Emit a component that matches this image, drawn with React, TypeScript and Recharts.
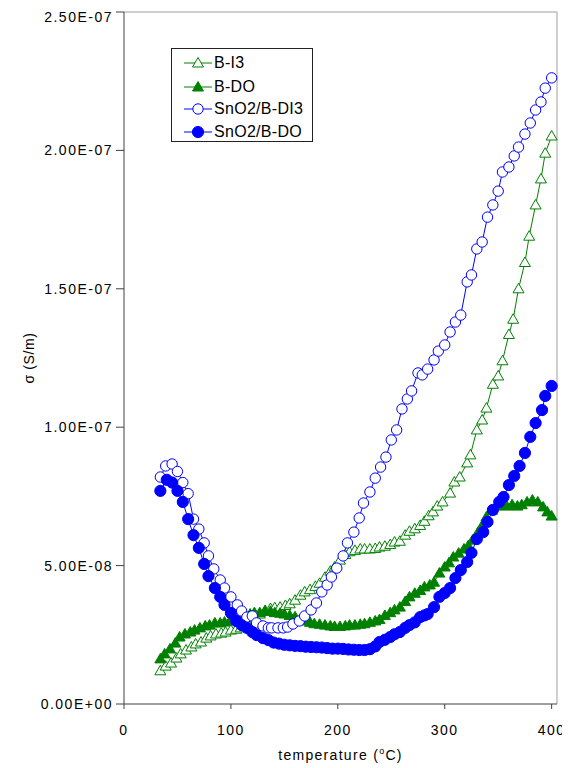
import React from 'react';
import { LineChart, Line, XAxis, YAxis, ReferenceLine } from 'recharts';

// conductivity values are in units of 1e-8 S/m
const bi3Temp = [34, 39, 44, 49, 53, 58, 63, 67, 72, 77, 81, 86, 91, 95, 100, 105, 109, 114, 118, 123, 127, 132, 137, 141, 146, 151, 155, 160, 165, 169, 174, 179, 183, 188, 193, 197, 202, 207, 211, 216, 221, 225, 230, 235, 239, 244, 249, 253, 258, 263, 267, 272, 277, 281, 285, 289, 293, 298, 305, 309, 314, 321, 324, 330, 335, 339, 345, 350, 354, 360, 364, 369, 375, 379, 385, 390, 394, 400];
const bi3Sigma = [1.2, 1.37, 1.48, 1.66, 1.81, 1.95, 2.06, 2.17, 2.24, 2.38, 2.46, 2.53, 2.56, 2.6, 2.67, 2.7, 2.75, 2.85, 2.95, 3.1, 3.25, 3.38, 3.45, 3.48, 3.5, 3.56, 3.62, 3.75, 3.93, 4.05, 4.13, 4.25, 4.36, 4.58, 4.8, 4.95, 5.2, 5.4, 5.5, 5.55, 5.6, 5.6, 5.6, 5.62, 5.67, 5.7, 5.76, 5.85, 5.88, 6.1, 6.24, 6.33, 6.45, 6.6, 6.8, 6.94, 7.15, 7.3, 7.62, 8.02, 8.2, 8.71, 9.0, 9.9, 10.26, 10.69, 11.55, 11.85, 12.4, 13.35, 13.9, 15.0, 15.95, 16.9, 18.03, 18.97, 19.9, 20.52];

const bdoTemp = [34, 38, 43, 48, 52, 57, 62, 66, 71, 76, 80, 85, 90, 94, 99, 104, 108, 113, 118, 122, 127, 132, 137, 141, 146, 150, 155, 160, 165, 169, 174, 178, 183, 188, 193, 197, 202, 207, 211, 216, 221, 225, 230, 235, 239, 244, 249, 253, 258, 263, 267, 272, 277, 281, 286, 290, 295, 300, 304, 308, 313, 318, 322, 326, 331, 335, 339, 344, 348, 353, 358, 363, 368, 372, 377, 382, 387, 392, 396, 400];
const bdoSigma = [1.63, 1.81, 1.99, 2.2, 2.42, 2.53, 2.6, 2.67, 2.75, 2.82, 2.85, 2.93, 2.93, 2.96, 3.0, 3.07, 3.14, 3.2, 3.25, 3.3, 3.3, 3.35, 3.35, 3.3, 3.28, 3.25, 3.2, 3.15, 3.05, 3.0, 2.95, 2.9, 2.88, 2.85, 2.82, 2.8, 2.8, 2.82, 2.85, 2.85, 2.88, 2.9, 2.95, 3.0, 3.05, 3.2, 3.3, 3.4, 3.5, 3.7, 3.87, 4.0, 4.1, 4.23, 4.3, 4.4, 4.73, 4.95, 5.1, 5.31, 5.45, 5.6, 5.72, 5.92, 6.2, 6.45, 6.76, 7.0, 7.15, 7.2, 7.15, 7.2, 7.15, 7.2, 7.3, 7.37, 7.3, 7.12, 6.94, 6.79];

const snDi3Temp = [34, 39, 45, 50, 55, 60, 65, 70, 75, 79, 84, 90, 94, 100, 106, 110, 115, 120, 124, 130, 135, 138, 144, 149, 153, 158, 164, 169, 175, 180, 185, 190, 194, 199, 205, 209, 215, 220, 224, 230, 235, 240, 245, 250, 255, 260, 265, 269, 275, 279, 284, 290, 294, 300, 305, 310, 315, 321, 325, 330, 335, 340, 345, 350, 354, 360, 365, 369, 375, 380, 385, 390, 394, 400];
const snDi3Sigma = [8.2, 8.6, 8.67, 8.4, 8.0, 7.6, 6.68, 6.32, 5.82, 5.35, 4.88, 4.48, 4.19, 3.87, 3.58, 3.36, 3.14, 3.18, 2.93, 2.82, 2.75, 2.75, 2.75, 2.75, 2.78, 2.89, 3.0, 3.18, 3.4, 3.65, 4.05, 4.3, 4.59, 4.91, 5.35, 5.82, 6.21, 6.72, 7.26, 7.66, 8.16, 8.56, 8.92, 9.54, 9.9, 10.66, 11.02, 11.31, 11.96, 11.89, 12.1, 12.43, 12.75, 12.97, 13.44, 13.8, 14.05, 15.25, 15.5, 16.44, 16.69, 17.59, 18.03, 18.53, 19.22, 19.4, 19.8, 20.12, 20.59, 20.99, 21.46, 21.75, 22.25, 22.62];

const snDoTemp = [34, 40, 45, 50, 55, 60, 65, 70, 75, 79, 85, 90, 94, 100, 105, 110, 115, 120, 124, 130, 135, 140, 145, 150, 155, 160, 165, 170, 175, 180, 185, 190, 195, 200, 205, 210, 215, 220, 225, 230, 235, 239, 244, 249, 253, 258, 263, 267, 272, 277, 281, 284, 290, 295, 300, 305, 310, 315, 321, 325, 330, 336, 340, 345, 351, 355, 360, 365, 370, 375, 380, 385, 391, 394, 400];
const snDoSigma = [7.7, 8.1, 8.0, 7.7, 7.3, 6.68, 6.1, 5.64, 5.06, 4.62, 4.19, 3.87, 3.58, 3.29, 3.0, 2.85, 2.75, 2.6, 2.49, 2.38, 2.31, 2.22, 2.18, 2.14, 2.12, 2.1, 2.09, 2.07, 2.06, 2.05, 2.04, 2.02, 2.0, 2.0, 1.99, 1.97, 1.96, 1.95, 1.95, 1.98, 2.08, 2.24, 2.32, 2.42, 2.52, 2.6, 2.75, 2.85, 2.95, 3.14, 3.2, 3.25, 3.5, 3.87, 4.01, 4.19, 4.55, 4.84, 5.13, 5.46, 5.96, 6.21, 6.58, 7.01, 7.3, 7.48, 7.91, 8.24, 8.6, 9.07, 9.65, 10.15, 10.62, 11.13, 11.49];

const xTicks = [0, 100, 200, 300, 400];
const yTicks = [0, 5e-8, 1e-7, 1.5e-7, 2e-7, 2.5e-7];

const GREEN = '#008000';
const BLUE = '#0000ff';
const FONT = '"Liberation Sans", Arial, sans-serif';

const toRows = (temps: number[], sigma: number[]) => temps.map((t, i) => ({ t, s: sigma[i] * 1e-8 }));

const series = [
  { name: 'B-I3', data: toRows(bi3Temp, bi3Sigma), color: GREEN, shape: 'tri', filled: false },
  { name: 'B-DO', data: toRows(bdoTemp, bdoSigma), color: GREEN, shape: 'tri', filled: true },
  { name: 'SnO2/B-DI3', data: toRows(snDi3Temp, snDi3Sigma), color: BLUE, shape: 'circle', filled: false },
  { name: 'SnO2/B-DO', data: toRows(snDoTemp, snDoSigma), color: BLUE, shape: 'circle', filled: true },
];

const sci = (v: number) => {
  if (v === 0) return '0.00E+00';
  const e = Math.floor(Math.log10(Math.abs(v)) + 1e-9);
  const m = v / Math.pow(10, e);
  return `${m.toFixed(2)}E${e < 0 ? '-' : '+'}${String(Math.abs(e)).padStart(2, '0')}`;
};

function Marker({ cx, cy, shape, filled, color }: any) {
  if (cx == null || cy == null) return null;
  const fill = filled ? color : '#fff';
  if (shape === 'tri') {
    return (
      <path
        d={`M${cx},${cy - 5.5}L${cx + 5.5},${cy + 4}L${cx - 5.5},${cy + 4}Z`}
        fill={fill}
        stroke={color}
        strokeWidth={1}
      />
    );
  }
  return <circle cx={cx} cy={cy} r={filled ? 5.6 : 5.2} fill={fill} stroke={color} strokeWidth={1} />;
}

const XTick = ({ x, y, payload }: any) => (
  <text x={x} y={y} dy={9.8} textAnchor="middle" fontSize={14} fontFamily={FONT} fill="#000" stroke="none" letterSpacing={1.5}>
    {payload.value}
  </text>
);

const YTick = ({ x, y, payload }: any) => (
  <text x={x} y={y} dy={5} textAnchor="end" fontSize={14} fontFamily={FONT} fill="#000" stroke="none" letterSpacing={1.5}>
    {sci(payload.value)}
  </text>
);

const titleStyle: React.CSSProperties = {
  position: 'absolute',
  fontFamily: FONT,
  fontSize: 14,
  lineHeight: '16px',
  color: '#000',
  textAlign: 'center',
  whiteSpace: 'nowrap',
};

function LegendBox() {
  const rows = [14, 38, 60, 83];
  return (
    <div
      style={{
        position: 'absolute',
        left: 163,
        top: 40,
        width: 142,
        height: 94,
        boxSizing: 'border-box',
        border: '1px solid #222',
        background: '#fff',
        fontFamily: FONT,
      }}
    >
      {series.map((s, i) => (
        <div key={s.name}>
          <svg style={{ position: 'absolute', left: 11, top: rows[i] - 8 }} width={30} height={16}>
            <line x1={1} x2={29} y1={8} y2={8} stroke={s.color} strokeWidth={1} />
            <Marker cx={15} cy={8} shape={s.shape} filled={s.filled} color={s.color} />
          </svg>
          <span
            style={{
              position: 'absolute',
              left: 42,
              top: rows[i] - 10,
              lineHeight: '20px',
              fontSize: 16,
              letterSpacing: 0.3,
              whiteSpace: 'nowrap',
              color: '#000',
            }}
          >
            {s.name}
          </span>
        </div>
      ))}
    </div>
  );
}

export default function App() {
  return (
    <div style={{ position: 'relative', width: 562, height: 760 }}>
      <LineChart width={562} height={760} margin={{ top: 4, right: 13, bottom: 0, left: 0 }}>
        <XAxis
          type="number"
          dataKey="t"
          domain={[0, 405]}
          ticks={xTicks}
          height={64}
          tickSize={5}
          tickMargin={16}
          tick={<XTick />}
          stroke="#404040"
        />
        <YAxis
          type="number"
          dataKey="s"
          domain={[0, 2.5e-7]}
          ticks={yTicks}
          width={116}
          tickSize={8}
          tickMargin={3}
          tick={<YTick />}
          stroke="#404040"
        />
        <ReferenceLine y={2.5e-7} stroke="#a0a0a0" />
        <ReferenceLine x={405} stroke="#a0a0a0" />
        {series.map((s) => (
          <Line
            key={s.name}
            name={s.name}
            data={s.data}
            dataKey="s"
            type="linear"
            stroke={s.color}
            strokeWidth={1}
            isAnimationActive={false}
            activeDot={false}
            dot={(p: any) => (
              <Marker key={`${s.name}-${p.index}`} cx={p.cx} cy={p.cy} shape={s.shape} filled={s.filled} color={s.color} />
            )}
          />
        ))}
      </LineChart>
      <div style={{ ...titleStyle, left: 116, top: 739, width: 433, letterSpacing: 1.3 }}>
        temperature (<span style={{ fontSize: 9, position: 'relative', top: -6 }}>o</span>C)
      </div>
      <div
        style={{
          ...titleStyle,
          left: -29,
          top: 342,
          width: 100,
          letterSpacing: 0.6,
          transform: 'rotate(-90deg)',
        }}
      >
        σ (S/m)
      </div>
      <LegendBox />
    </div>
  );
}
